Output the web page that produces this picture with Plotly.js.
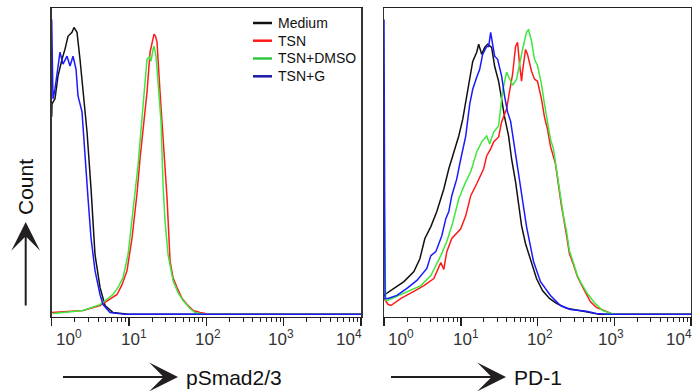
<!DOCTYPE html>
<html>
<head>
<meta charset="utf-8">
<script src="https://cdn.plot.ly/plotly-3.0.1.min.js"></script>
<style>
html,body{margin:0;padding:0;background:#ffffff;}
#chart{width:692px;height:391px;}
</style>
</head>
<body>
<div id="chart"></div>
<script>
// ---- data (fluorescence intensity vs. count, % of frame height) ----
const seriesNames = ['Medium', 'TSN', 'TSN+DMSO', 'TSN+G'];

// Left panel: pSmad2/3
const psmadMediumX = [1.0, 1.009, 1.103, 1.206, 1.359, 1.486, 1.625, 1.830, 1.943, 2.125, 2.323, 2.541, 2.862, 3.224, 3.422, 3.633, 4.216, 4.893, 6.209, 10.30, 10000];
const psmadMediumY = [64.6, 68.8, 70.5, 77.9, 83.4, 86.7, 90.9, 92.2, 93.8, 92.2, 83.4, 73.7, 59.7, 41.2, 29.9, 19.5, 8.8, 2.9, 0.6, 0, 0];

const psmadTsnX = [1.009, 2.541, 4.216, 6.997, 8.120, 9.422, 10.94, 12.69, 13.88, 15.18, 17.10, 18.70, 20.44, 21.06, 22.02, 23.02, 25.18, 27.54, 31.02, 33.92, 37.10, 41.78, 48.49, 56.28, 67.30, 82.88, 111.7, 10000];
const psmadTsnY = [0.6, 1.3, 2.9, 6.5, 9.7, 14.3, 25.0, 39.6, 51.0, 59.7, 72.7, 85.7, 90.9, 91.6, 90.9, 89.0, 72.7, 57.5, 38.0, 17.5, 12.0, 8.8, 5.2, 3.2, 1.3, 0.6, 0, 0];

const psmadDmsoX = [1.039, 2.541, 4.216, 6.209, 7.208, 8.366, 9.707, 10.94, 11.96, 13.08, 15.18, 17.10, 18.15, 19.26, 20.44, 21.06, 22.35, 23.72, 25.94, 27.54, 29.23, 31.96, 37.10, 43.05, 49.96, 61.53, 71.42, 96.2, 10000];
const psmadDmsoY = [0.3, 1.3, 3.2, 6.5, 8.8, 12.0, 19.5, 30.5, 39.6, 48.7, 68.2, 83.4, 84.1, 82.8, 86.7, 87.7, 84.4, 76.0, 63.0, 42.2, 30.5, 19.5, 11.0, 7.1, 4.5, 1.9, 0.6, 0, 0];

const psmadGX = [1.0, 1.039, 1.103, 1.171, 1.280, 1.400, 1.577, 1.725, 1.886, 2.063, 2.189, 2.466, 2.697, 2.949, 3.224, 3.633, 4.216, 4.610, 5.678, 8.878, 10000];
const psmadGY = [96.4, 70.5, 73.7, 77.9, 85.7, 81.8, 84.4, 81.2, 84.4, 80.2, 71.4, 66.2, 51.0, 38.0, 25.0, 14.3, 6.5, 3.2, 0.6, 0, 0];

// Right panel: PD-1
const pd1MediumX = [1.0, 1.030, 1.348, 1.818, 2.453, 2.935, 3.408, 4.078, 4.878, 6.016, 6.987, 8.111, 9.420, 10.62, 11.97, 13.09, 14.32, 16.14, 17.13, 18.74, 20.50, 22.42, 25.27, 27.64, 31.15, 34.08, 37.28, 42.02, 45.96, 51.79, 56.64, 61.97, 69.86, 81.11, 97.05, 116.1, 143.2, 176.5, 238.1, 395.8, 638.6, 10000];
const pd1MediumY = [5.9, 6.5, 8.5, 10.7, 14.0, 18.2, 24.8, 28.7, 33.6, 41.0, 47.6, 53.1, 58.3, 63.8, 71.3, 75.9, 82.7, 85.7, 88.3, 85.0, 87.3, 88.3, 87.3, 81.1, 76.2, 70.4, 64.5, 58.3, 50.8, 43.3, 35.5, 29.0, 23.1, 18.2, 11.7, 7.8, 5.2, 3.6, 2.0, 1.0, 0, 0];

const pd1TsnX = [1.0, 1.127, 1.233, 1.663, 2.453, 3.307, 4.461, 5.179, 5.499, 6.016, 6.580, 7.641, 10.0, 11.61, 13.49, 16.14, 19.89, 21.76, 24.53, 26.83, 31.15, 34.08, 39.57, 43.29, 47.36, 51.79, 54.99, 58.38, 61.97, 63.87, 69.86, 74.15, 83.58, 91.43, 100, 112.7, 123.3, 134.9, 147.5, 171.3, 187.4, 205.0, 231.0, 260.4, 293.4, 330.7, 395.8, 487.9, 583.8, 719.7, 914.4, 1233, 10000];
const pd1TsnY = [5.2, 3.3, 2.9, 5.2, 7.5, 9.4, 11.7, 15.6, 16.9, 14.7, 20.5, 24.8, 28.0, 32.2, 38.8, 42.7, 47.6, 51.8, 54.1, 56.4, 58.0, 62.9, 67.1, 73.0, 78.5, 87.6, 88.9, 81.8, 76.2, 79.5, 86.6, 85.0, 79.5, 76.9, 76.2, 70.4, 64.5, 60.6, 55.0, 49.2, 42.0, 35.5, 28.0, 19.9, 16.3, 12.4, 8.5, 4.2, 2.3, 1.3, 0.3, 0, 0];

const pd1DmsoX = [1.0, 1.05, 1.127, 1.475, 2.242, 3.024, 4.078, 5.499, 6.580, 7.874, 9.420, 11.61, 13.49, 16.14, 18.74, 21.76, 23.81, 26.83, 31.15, 35.12, 39.57, 43.29, 47.36, 53.37, 58.38, 63.87, 71.97, 76.41, 83.58, 91.43, 100, 112.7, 123.3, 134.9, 147.5, 161.4, 176.5, 199.0, 217.6, 238.1, 260.4, 293.4, 330.7, 372.8, 446.0, 549.9, 698.6, 914.4, 1161, 10000];
const pd1DmsoY = [42.7, 4.6, 4.6, 5.9, 7.8, 9.4, 12.7, 19.2, 23.8, 30.0, 37.8, 43.3, 46.6, 53.1, 56.4, 58.3, 55.7, 59.6, 61.6, 73.0, 79.2, 76.9, 74.9, 76.9, 82.4, 86.6, 92.2, 93.2, 89.3, 83.4, 81.4, 75.2, 68.7, 62.2, 57.3, 54.1, 47.6, 37.8, 32.2, 27.4, 20.8, 16.9, 12.7, 10.1, 6.8, 3.9, 1.3, 0.3, 0, 0];

const pd1GX = [1.0, 1.03, 1.127, 1.475, 1.989, 2.683, 3.618, 4.078, 4.735, 5.665, 6.387, 6.987, 7.641, 8.874, 10.0, 11.61, 13.09, 14.32, 16.14, 17.65, 19.31, 21.76, 23.10, 24.53, 26.04, 27.64, 30.24, 34.08, 37.28, 40.78, 44.61, 48.80, 53.37, 60.15, 65.80, 71.97, 78.74, 88.74, 109.4, 147.5, 199.0, 268.3, 432.9, 583.8, 861.3, 10000];
const pd1GY = [96.4, 5.2, 5.2, 6.2, 8.5, 11.1, 15.0, 19.2, 20.5, 25.7, 31.3, 33.6, 38.8, 44.3, 50.8, 58.3, 68.7, 73.6, 77.5, 80.1, 85.0, 87.6, 87.6, 92.2, 88.3, 84.4, 83.4, 77.9, 71.3, 66.1, 63.2, 56.4, 49.8, 42.0, 34.5, 28.7, 23.8, 17.3, 10.7, 6.2, 2.9, 1.6, 1.0, 0.3, 0, 0];

// axis ticks
const majorTickVals = [1, 10, 100, 1000, 10000];
const tickExponents = [0, 1, 2, 3, 4];
const axisTitles = ['pSmad2/3', 'PD-1'];
const yAxisTitle = 'Count';

// ---- styling ----
const colors = ['#111111', '#ff1a1a', '#3ee63e', '#1a1aff'];
const legendColors = ['#111111', '#ff1a1a', '#2fc83f', '#1a1aa8'];
const ink = '#231f20';
const font = 'Liberation Sans, Arial, Helvetica, sans-serif';
const labelShift = [17, 5, 2, -3, -12];

const minorTickVals = [];
for (let d = 1; d < 10000; d *= 10) {
  for (let m = 2; m <= 9; m++) minorTickVals.push(m * d);
}

const leftSeries = [[psmadMediumX, psmadMediumY], [psmadTsnX, psmadTsnY], [psmadDmsoX, psmadDmsoY], [psmadGX, psmadGY]];
const rightSeries = [[pd1MediumX, pd1MediumY], [pd1TsnX, pd1TsnY], [pd1DmsoX, pd1DmsoY], [pd1GX, pd1GY]];

const traces = [];
leftSeries.forEach((s, i) => traces.push({
  x: s[0], y: s[1], xaxis: 'x', yaxis: 'y', type: 'scatter', mode: 'lines',
  name: seriesNames[i], legendgroup: seriesNames[i], showlegend: false,
  line: {color: colors[i], width: 1.5}
}));
rightSeries.forEach((s, i) => traces.push({
  x: s[0], y: s[1], xaxis: 'x2', yaxis: 'y2', type: 'scatter', mode: 'lines',
  name: seriesNames[i], legendgroup: seriesNames[i], showlegend: false,
  line: {color: colors[i], width: 1.5}
}));

function xAxis(domain) {
  return {
    type: 'log', domain: domain, range: [0, 4], fixedrange: true,
    showgrid: false, zeroline: false,
    showline: true, linecolor: ink, linewidth: 1.5, mirror: true,
    ticks: 'outside', tickmode: 'array', tickvals: majorTickVals,
    ticklen: 8, tickwidth: 1.5, tickcolor: ink, showticklabels: false,
    minor: {tickmode: 'array', tickvals: minorTickVals, ticks: 'outside', ticklen: 4, tickwidth: 1, tickcolor: ink, showgrid: false}
  };
}
function yAxis(anchor) {
  return {
    anchor: anchor, domain: [0.1905, 0.9783], range: [-0.7, 100], fixedrange: true,
    showgrid: false, zeroline: false, showline: true, linecolor: '#333333', linewidth: 1.5,
    mirror: true, ticks: '', showticklabels: false
  };
}

const annotations = [];
const shapes = [];
['x', 'x2'].forEach(ax => {
  tickExponents.forEach((e, k) => annotations.push({
    xref: ax, yref: 'paper', x: e, y: 0.168, yanchor: 'top', xanchor: 'center',
    xshift: labelShift[k], showarrow: false,
    text: '10<sup>' + e + '</sup>', font: {family: font, size: 17, color: '#333333'}
  }));
});
// x-axis titles with arrows
const arrowTips = [178, 506];
const titleStarts = [184, 512];
[0, 1].forEach(p => {
  annotations.push({
    xref: 'paper', yref: 'paper', x: arrowTips[p] / 692, y: (391 - 377) / 391,
    ax: -118, ay: 0, text: ' ', showarrow: true, arrowhead: 3, arrowsize: 2.4,
    arrowwidth: 2, arrowcolor: ink, standoff: 0
  });
  annotations.push({
    xref: 'paper', yref: 'paper', x: titleStarts[p] / 692, y: (391 - 377) / 391,
    xanchor: 'left', yanchor: 'middle', showarrow: false, text: axisTitles[p],
    font: {family: font, size: 21, color: '#111111'}
  });
});
// y-axis title with arrow
annotations.push({
  xref: 'paper', yref: 'paper', x: 25.7 / 692, y: (391 - 222) / 391,
  ax: 0, ay: 92, text: ' ', showarrow: true, arrowhead: 3, arrowsize: 2.4,
  arrowwidth: 2, arrowcolor: ink, standoff: 0
});
annotations.push({
  xref: 'paper', yref: 'paper', x: 25 / 692, y: (391 - 187) / 391,
  xanchor: 'center', yanchor: 'middle', showarrow: false, textangle: -90,
  text: yAxisTitle, font: {family: font, size: 21, color: '#111111'}
});
// legend (inside left panel, top right)
const legendRowsY = [23, 40.7, 58.5, 76.3];
seriesNames.forEach((n, i) => {
  shapes.push({
    type: 'line', xref: 'paper', yref: 'paper',
    x0: 253 / 692, x1: 272 / 692,
    y0: (391 - legendRowsY[i]) / 391, y1: (391 - legendRowsY[i]) / 391,
    line: {color: legendColors[i], width: 2.5}
  });
  annotations.push({
    xref: 'paper', yref: 'paper', x: 276 / 692, y: (391 - legendRowsY[i]) / 391,
    xanchor: 'left', yanchor: 'middle', showarrow: false, text: n,
    font: {family: font, size: 14, color: '#111111'}
  });
});

const layout = {
  width: 692, height: 391,
  margin: {l: 0, r: 0, t: 0, b: 0, pad: 0},
  paper_bgcolor: '#ffffff', plot_bgcolor: '#ffffff',
  font: {family: font, color: ink},
  showlegend: false,
  xaxis: xAxis([51.7 / 692, 361 / 692]),
  yaxis: yAxis('x'),
  xaxis2: xAxis([384 / 692, 691 / 692]),
  yaxis2: yAxis('x2'),
  annotations: annotations,
  shapes: shapes
};
layout.xaxis.anchor = 'y';
layout.xaxis2.anchor = 'y2';

Plotly.newPlot('chart', traces, layout, {displayModeBar: false, staticPlot: true});
</script>
</body>
</html>
